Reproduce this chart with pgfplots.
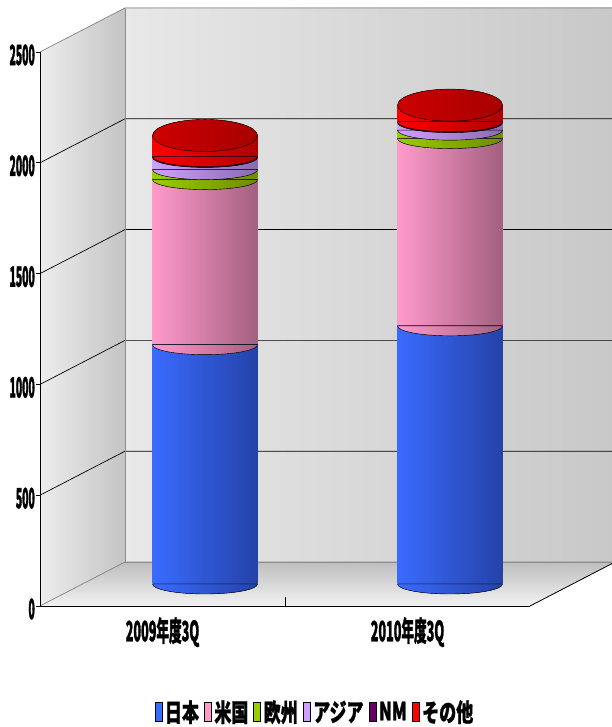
\documentclass[border=0pt]{standalone}
\usepackage{pgfplots}
\pgfplotsset{compat=1.18}
\usepackage{pgfplotstable}
\usepackage{fontspec}
\setmainfont{Liberation Sans}
\newfontfamily\jpfont{Noto Sans CJK JP}[FakeStretch=0.45, BoldFeatures={FakeBold=1}]
\newfontfamily\yfont{Noto Sans CJK JP}[FakeStretch=0.37, BoldFeatures={FakeBold=1}]
\newfontfamily\lgfont{Noto Sans CJK JP}[FakeStretch=0.68, BoldFeatures={FakeBold=1}]

\definecolor{jpL}{HTML}{3A6BFF}\definecolor{jpR}{HTML}{2442A8}
\definecolor{usL}{HTML}{FF9ACB}\definecolor{usR}{HTML}{A3607F}
\definecolor{euL}{HTML}{9ACD00}\definecolor{euR}{HTML}{6E8C00}
\definecolor{asL}{HTML}{D0A0FF}\definecolor{asR}{HTML}{8A6AAF}
\definecolor{nmL}{HTML}{660066}\definecolor{nmR}{HTML}{400040}
\definecolor{otL}{HTML}{FF0000}\definecolor{otR}{HTML}{B00000}
\definecolor{otTop}{HTML}{C40000}
\definecolor{lwL}{HTML}{EDEDED}\definecolor{lwR}{HTML}{C4C4C4}
\definecolor{bwL}{HTML}{E8E8E8}\definecolor{bwR}{HTML}{C8C8C8}
\definecolor{flB}{HTML}{BEBEBE}\definecolor{flF}{HTML}{F2F2F2}
\definecolor{edge}{HTML}{8C8C8C}

\newcommand\cylmark[3]{\pgfdeclareplotmark{#1}{%
  \fill[left color=#2,right color=#3] (-52.5pt,0pt) arc[start angle=180,end angle=360,x radius=52.5pt,y radius=10pt] -- cycle;}}
\cylmark{hJ}{jpL}{jpR}
\cylmark{hU}{usL}{usR}
\cylmark{hE}{euL}{euR}
\cylmark{hA}{asL}{asR}
\cylmark{hN}{nmL}{nmR}
\cylmark{hO}{otL}{otR}
\pgfdeclareplotmark{cap}{%
  \fill[left color=otTop!85!red, right color=otTop!85!black] (0pt,0pt) ellipse[x radius=52.5pt,y radius=16pt];}

\pgfplotstableread{
x japan us europe asia nm other
0.5 1080 745 45 55 4 95
}\dataA
\pgfplotstableread{
x japan us europe asia nm other
1.5 1165 845 38 34 4 75
}\dataB

\pgfplotsset{cylax/.style={at={(82.5pt,143pt)}, anchor=south west,
  width=490pt, height=554pt, scale only axis,
  xmin=0, xmax=2, ymin=0, ymax=2500, hide axis, clip=false, bar width=105pt}}

\newcommand\cyl[1]{%
\begin{axis}[cylax, ybar stacked]
 \addplot[draw=none, left color=jpL, right color=jpR] table[x=x,y=japan]{#1};
 \addplot[draw=none, left color=usL, right color=usR] table[x=x,y=us]{#1};
 \addplot[draw=none, left color=euL, right color=euR] table[x=x,y=europe]{#1};
 \addplot[draw=none, left color=asL, right color=asR] table[x=x,y=asia]{#1};
 \addplot[draw=none, left color=nmL, right color=nmR] table[x=x,y=nm]{#1};
 \addplot[draw=none, left color=otL, right color=otR] table[x=x,y=other]{#1};
\end{axis}
\begin{axis}[cylax, stack plots=y, reverse stacked plots=false]
 \addplot[only marks, mark=hJ] table[x=x,y expr=0]{#1};
 \addplot[only marks, mark=hU] table[x=x,y=japan]{#1};
 \addplot[only marks, mark=hE] table[x=x,y=us]{#1};
 \addplot[only marks, mark=hA] table[x=x,y=europe]{#1};
 \addplot[only marks, mark=hN] table[x=x,y=asia]{#1};
 \addplot[only marks, mark=hO] table[x=x,y=nm]{#1};
 \addplot[only marks, mark=cap] table[x=x,y=other]{#1};
\end{axis}}

\def\dx{0.34694}
\def\dy{198.56}

\begin{document}
\begin{tikzpicture}[x=1pt,y=1pt]
\useasboundingbox (0,0) rectangle (611,727);
\begin{axis}[at={(40pt,121pt)}, anchor=south west,
  width=490pt, height=554pt, scale only axis,
  xmin=0, xmax=2, ymin=0, ymax=2500, clip=false, axis on top,
  axis x line*=bottom, axis y line*=left,
  axis line style={-, black, line width=0.8pt},
  xtick={0.5,1.5}, xticklabels={2009年度3Q,2010年度3Q},
  ytick={0,500,...,2500},
  tick align=outside, major tick length=4pt,
  major x tick style={draw=none},
  tick style={black, line width=0.8pt},
  xticklabel style={font=\jpfont\bfseries\fontsize{28}{28}\selectfont, inner sep=1pt, yshift=-6pt},
  yticklabel style={font=\yfont\bfseries\fontsize{28}{28}\selectfont, inner sep=1pt, yshift=-3pt},
  /pgf/number format/assume math mode=true,
  /pgf/number format/1000 sep={},
  legend style={at={(0.56,-0.191)}, anchor=center, draw=none, fill=none,
    legend columns=-1, font=\lgfont\bfseries\fontsize{25}{25}\selectfont,
    /tikz/every even column/.append style={column sep=4pt},
    /tikz/every odd column/.append style={column sep=2pt},
    nodes={inner sep=1pt}},
  legend image code/.code={\fill[#1] (0pt,-9pt) rectangle (7pt,10pt);},
  ]
  % walls
  \fill[left color=lwL, right color=lwR] (axis cs:0,0) -- (axis cs:\dx,\dy) -- (axis cs:\dx,2500+\dy) -- (axis cs:0,2500) -- cycle;
  \fill[left color=bwL, right color=bwR] (axis cs:\dx,\dy) rectangle (axis cs:2+\dx,2500+\dy);
  \fill[top color=flB, bottom color=flF] (axis cs:0,0) -- (axis cs:2,0) -- (axis cs:2+\dx,\dy) -- (axis cs:\dx,\dy) -- cycle;
  \pgfplotsinvokeforeach{500,1000,1500,2000}{%
    \draw[black, line width=0.7pt] (axis cs:0,#1) -- (axis cs:\dx,#1+\dy) -- (axis cs:2+\dx,#1+\dy);}
  \draw[edge, line width=0.7pt] (axis cs:0,2500) -- (axis cs:\dx,2500+\dy) -- (axis cs:2+\dx,2500+\dy);
  \draw[edge, line width=0.7pt] (axis cs:\dx,2500+\dy) -- (axis cs:\dx,\dy) -- (axis cs:2+\dx,\dy);
  \draw[edge, line width=0.7pt] (axis cs:0,0) -- (axis cs:\dx,\dy);
  \draw[black, line width=0.8pt] (axis cs:2,0) -- (axis cs:2+\dx,\dy);
  \draw[black, line width=0.8pt] (axis cs:1,0) -- ++(0pt,9pt);
  \addlegendimage{fill=jpL}\addlegendentry{日本}
  \addlegendimage{fill=usL}\addlegendentry{米国}
  \addlegendimage{fill=euL}\addlegendentry{欧州}
  \addlegendimage{fill=asL}\addlegendentry{アジア}
  \addlegendimage{fill=nmL}\addlegendentry{NM}
  \addlegendimage{fill=otL}\addlegendentry{その他}
\end{axis}
\cyl{\dataA}
\cyl{\dataB}
\end{tikzpicture}
\end{document}
